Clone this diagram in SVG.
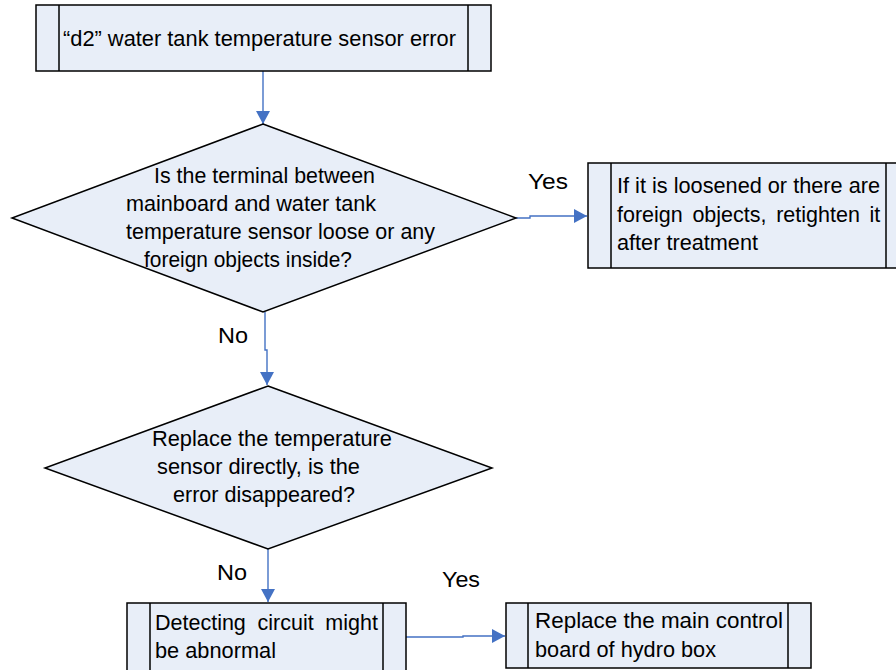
<svg xmlns="http://www.w3.org/2000/svg" width="896" height="670" viewBox="0 0 896 670">
<defs>
<style>
.box{fill:#E8EEF8;stroke:#000;stroke-width:1.5}
.div{stroke:#000;stroke-width:1.5}
.t{font-family:"Liberation Sans",Arial,sans-serif;font-size:21.5px;fill:#000}
.c{fill:none;stroke:#4472C4;stroke-width:1.4}
</style>
<marker id="ah" markerUnits="userSpaceOnUse" markerWidth="14" markerHeight="14" viewBox="0 0 14 14" refX="13" refY="7" orient="auto">
<path d="M0,0 L13,7 L0,14 Z" fill="#4472C4"/>
</marker>
</defs>
<rect width="896" height="670" fill="#fff"/>
<g id="connectors">
<path class="c" d="M263,71 V124" marker-end="url(#ah)"/>
<path class="c" d="M265,312 V350 H267 V385" marker-end="url(#ah)"/>
<path class="c" d="M268,549 V602" marker-end="url(#ah)"/>
<path class="c" d="M516,218 H530 V216 H587" marker-end="url(#ah)"/>
<path class="c" d="M406,637 H463 V636 H505" marker-end="url(#ah)"/>
<text class="t" x="528" y="189" textLength="40" lengthAdjust="spacingAndGlyphs">Yes</text>
<text class="t" x="218" y="343" textLength="30" lengthAdjust="spacingAndGlyphs">No</text>
<text class="t" x="217" y="580" textLength="30" lengthAdjust="spacingAndGlyphs">No</text>
<text class="t" x="442" y="587" textLength="38" lengthAdjust="spacingAndGlyphs">Yes</text>
</g>
<g id="start">
<rect class="box" x="36" y="5" width="455" height="66"/>
<line class="div" x1="59" y1="5" x2="59" y2="71"/>
<line class="div" x1="468" y1="5" x2="468" y2="71"/>
<text class="t" x="63" y="46" textLength="393" lengthAdjust="spacingAndGlyphs">“d2” water tank temperature sensor error</text>
</g>
<g id="decision1">
<polygon class="box" points="263,124 516,218 263,312 12,218"/>
<text class="t" x="154" y="183" textLength="221" lengthAdjust="spacingAndGlyphs">Is the terminal between</text>
<text class="t" x="126" y="211" textLength="250" lengthAdjust="spacingAndGlyphs">mainboard and water tank</text>
<text class="t" x="126" y="239" textLength="309" lengthAdjust="spacingAndGlyphs">temperature sensor loose or any</text>
<text class="t" x="144" y="267" textLength="208" lengthAdjust="spacingAndGlyphs">foreign objects inside?</text>
</g>
<g id="action1">
<rect class="box" x="588" y="163" width="321" height="105"/>
<line class="div" x1="611" y1="163" x2="611" y2="268"/>
<line class="div" x1="886" y1="163" x2="886" y2="268"/>
<text class="t" x="617" y="193" textLength="263" lengthAdjust="spacingAndGlyphs">If it is loosened or there are</text>
<text class="t" x="617" y="222" word-spacing="3.7">foreign objects, retighten it</text>
<text class="t" x="617" y="250" textLength="141" lengthAdjust="spacingAndGlyphs">after treatment</text>
</g>
<g id="decision2">
<polygon class="box" points="268,386 492,468 268,549 45,468"/>
<text class="t" x="152" y="446" textLength="240" lengthAdjust="spacingAndGlyphs">Replace the temperature</text>
<text class="t" x="157" y="474" textLength="203" lengthAdjust="spacingAndGlyphs">sensor directly, is the</text>
<text class="t" x="173" y="502" textLength="182" lengthAdjust="spacingAndGlyphs">error disappeared?</text>
</g>
<g id="action2">
<rect class="box" x="127" y="603" width="279" height="80"/>
<line class="div" x1="150" y1="603" x2="150" y2="683"/>
<line class="div" x1="383" y1="603" x2="383" y2="683"/>
<text class="t" x="155" y="630" word-spacing="5.7">Detecting circuit might</text>
<text class="t" x="155" y="658" textLength="121" lengthAdjust="spacingAndGlyphs">be abnormal</text>
</g>
<g id="action3">
<rect class="box" x="506" y="603" width="305" height="65"/>
<line class="div" x1="528" y1="603" x2="528" y2="668"/>
<line class="div" x1="788" y1="603" x2="788" y2="668"/>
<text class="t" x="535" y="628" textLength="248" lengthAdjust="spacingAndGlyphs">Replace the main control</text>
<text class="t" x="535" y="657" textLength="181" lengthAdjust="spacingAndGlyphs">board of hydro box</text>
</g>
</svg>
